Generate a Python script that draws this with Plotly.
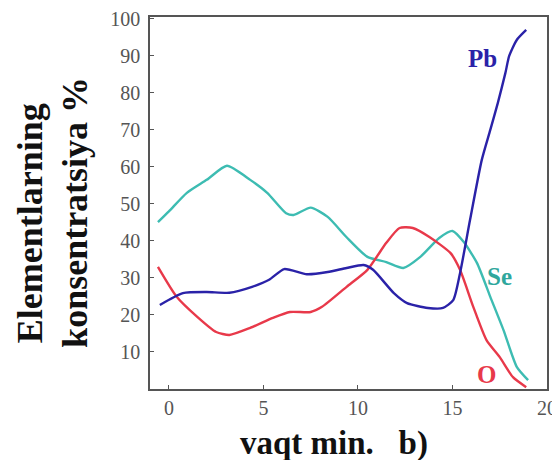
import plotly.graph_objects as go

se_x = [-0.58, 0.0, 0.95, 2.0, 3.07, 4.3, 5.2, 6.2, 6.6, 7.5, 8.4, 9.4, 10.5, 11.5, 12.4, 13.3, 14.3, 15.0, 15.6, 16.3, 17.0, 17.7, 18.4, 19.0]
se_y = [45.1, 48.0, 53.0, 56.5, 60.3, 56.5, 53.0, 47.5, 47.0, 49.0, 46.5, 41.0, 35.7, 34.3, 32.7, 35.7, 40.8, 42.7, 39.7, 34.0, 24.9, 15.9, 6.0, 2.4]

o_x = [-0.58, 0.4, 1.5, 2.5, 3.2, 4.3, 5.5, 6.4, 7.5, 8.1, 9.4, 10.5, 11.5, 12.2, 12.9, 13.8, 14.9, 15.4, 16.1, 16.8, 17.5, 18.2, 18.9]
o_y = [33.0, 25.0, 19.5, 15.4, 14.6, 16.5, 19.2, 20.8, 20.8, 22.2, 27.6, 32.2, 39.5, 43.5, 43.5, 41.0, 36.7, 32.2, 22.2, 13.2, 8.6, 3.2, 0.5]

pb_x = [-0.48, 0.74, 2.0, 3.2, 4.4, 5.3, 6.1, 7.3, 8.4, 9.4, 10.3, 10.8, 11.9, 12.6, 13.7, 14.5, 15.04, 15.4, 15.93, 16.55, 17.0, 17.4, 17.8, 18.0, 18.4, 18.9]
pb_y = [22.7, 25.9, 26.2, 26.0, 27.6, 29.5, 32.4, 31.0, 31.6, 32.7, 33.5, 32.2, 25.9, 23.2, 21.9, 21.9, 24.0, 31.3, 45.7, 61.9, 70.0, 77.3, 85.4, 90.0, 94.3, 97.0]

x_ticks = [0, 5, 10, 15, 20]
y_ticks = [10, 20, 30, 40, 50, 60, 70, 80, 90, 100]

SE_C = "#3dbcb2"
O_C = "#e8394a"
PB_C = "#2a22a8"
SERIF = "Liberation Serif, Times New Roman, serif"

fig = go.Figure()
fig.add_trace(go.Scatter(x=se_x, y=se_y, mode="lines", line=dict(color=SE_C, width=2.4, shape="spline", smoothing=0.6)))
fig.add_trace(go.Scatter(x=o_x, y=o_y, mode="lines", line=dict(color=O_C, width=2.4, shape="spline", smoothing=0.6)))
fig.add_trace(go.Scatter(x=pb_x, y=pb_y, mode="lines", line=dict(color=PB_C, width=2.4, shape="spline", smoothing=0.6)))

fig.add_annotation(x=16.6, y=89.2, text="<b>Pb</b>", showarrow=False, font=dict(family=SERIF, size=25, color=PB_C))
fig.add_annotation(x=17.5, y=30.3, text="<b>Se</b>", showarrow=False, font=dict(family=SERIF, size=25, color="#2fa79d"))
fig.add_annotation(x=16.8, y=3.8, text="<b>O</b>", showarrow=False, font=dict(family=SERIF, size=25, color=O_C))

fig.add_annotation(xref="paper", yref="paper", x=-0.302, y=0.446, text="<b>Elementlarning</b>", textangle=-90,
                   xanchor="center", yanchor="middle",
                   showarrow=False, font=dict(family=SERIF, size=36, color="#111"))
fig.add_annotation(xref="paper", yref="paper", x=-0.189, y=0.476, text="<b>konsentratsiya %</b>", textangle=-90,
                   xanchor="center", yanchor="middle",
                   showarrow=False, font=dict(family=SERIF, size=36, color="#111"))
fig.add_annotation(xref="paper", yref="paper", x=0.463, y=-0.146, text="<b>vaqt min.&nbsp;&nbsp;&nbsp;b)</b>",
                   xanchor="center", yanchor="middle",
                   showarrow=False, font=dict(family=SERIF, size=33, color="#111"))

axis_common = dict(showgrid=False, zeroline=False, showline=True, linecolor="#555", linewidth=1.5,
                   mirror=True, ticks="inside", ticklen=4, tickwidth=1.2, tickcolor="#555", automargin=False,
                   ticklabeloverflow="allow",
                   tickfont=dict(family=SERIF, size=20, color="#555"))
fig.update_xaxes(range=[-1, 20], tickvals=x_ticks, **axis_common)
fig.update_yaxes(range=[0, 100.5], tickvals=y_ticks, ticklabelstandoff=4, **axis_common)

fig.update_layout(width=552, height=452, margin=dict(l=142, r=13, t=9, b=71, autoexpand=False),
                  plot_bgcolor="white", paper_bgcolor="white", showlegend=False)
fig.write_html("out.html")
